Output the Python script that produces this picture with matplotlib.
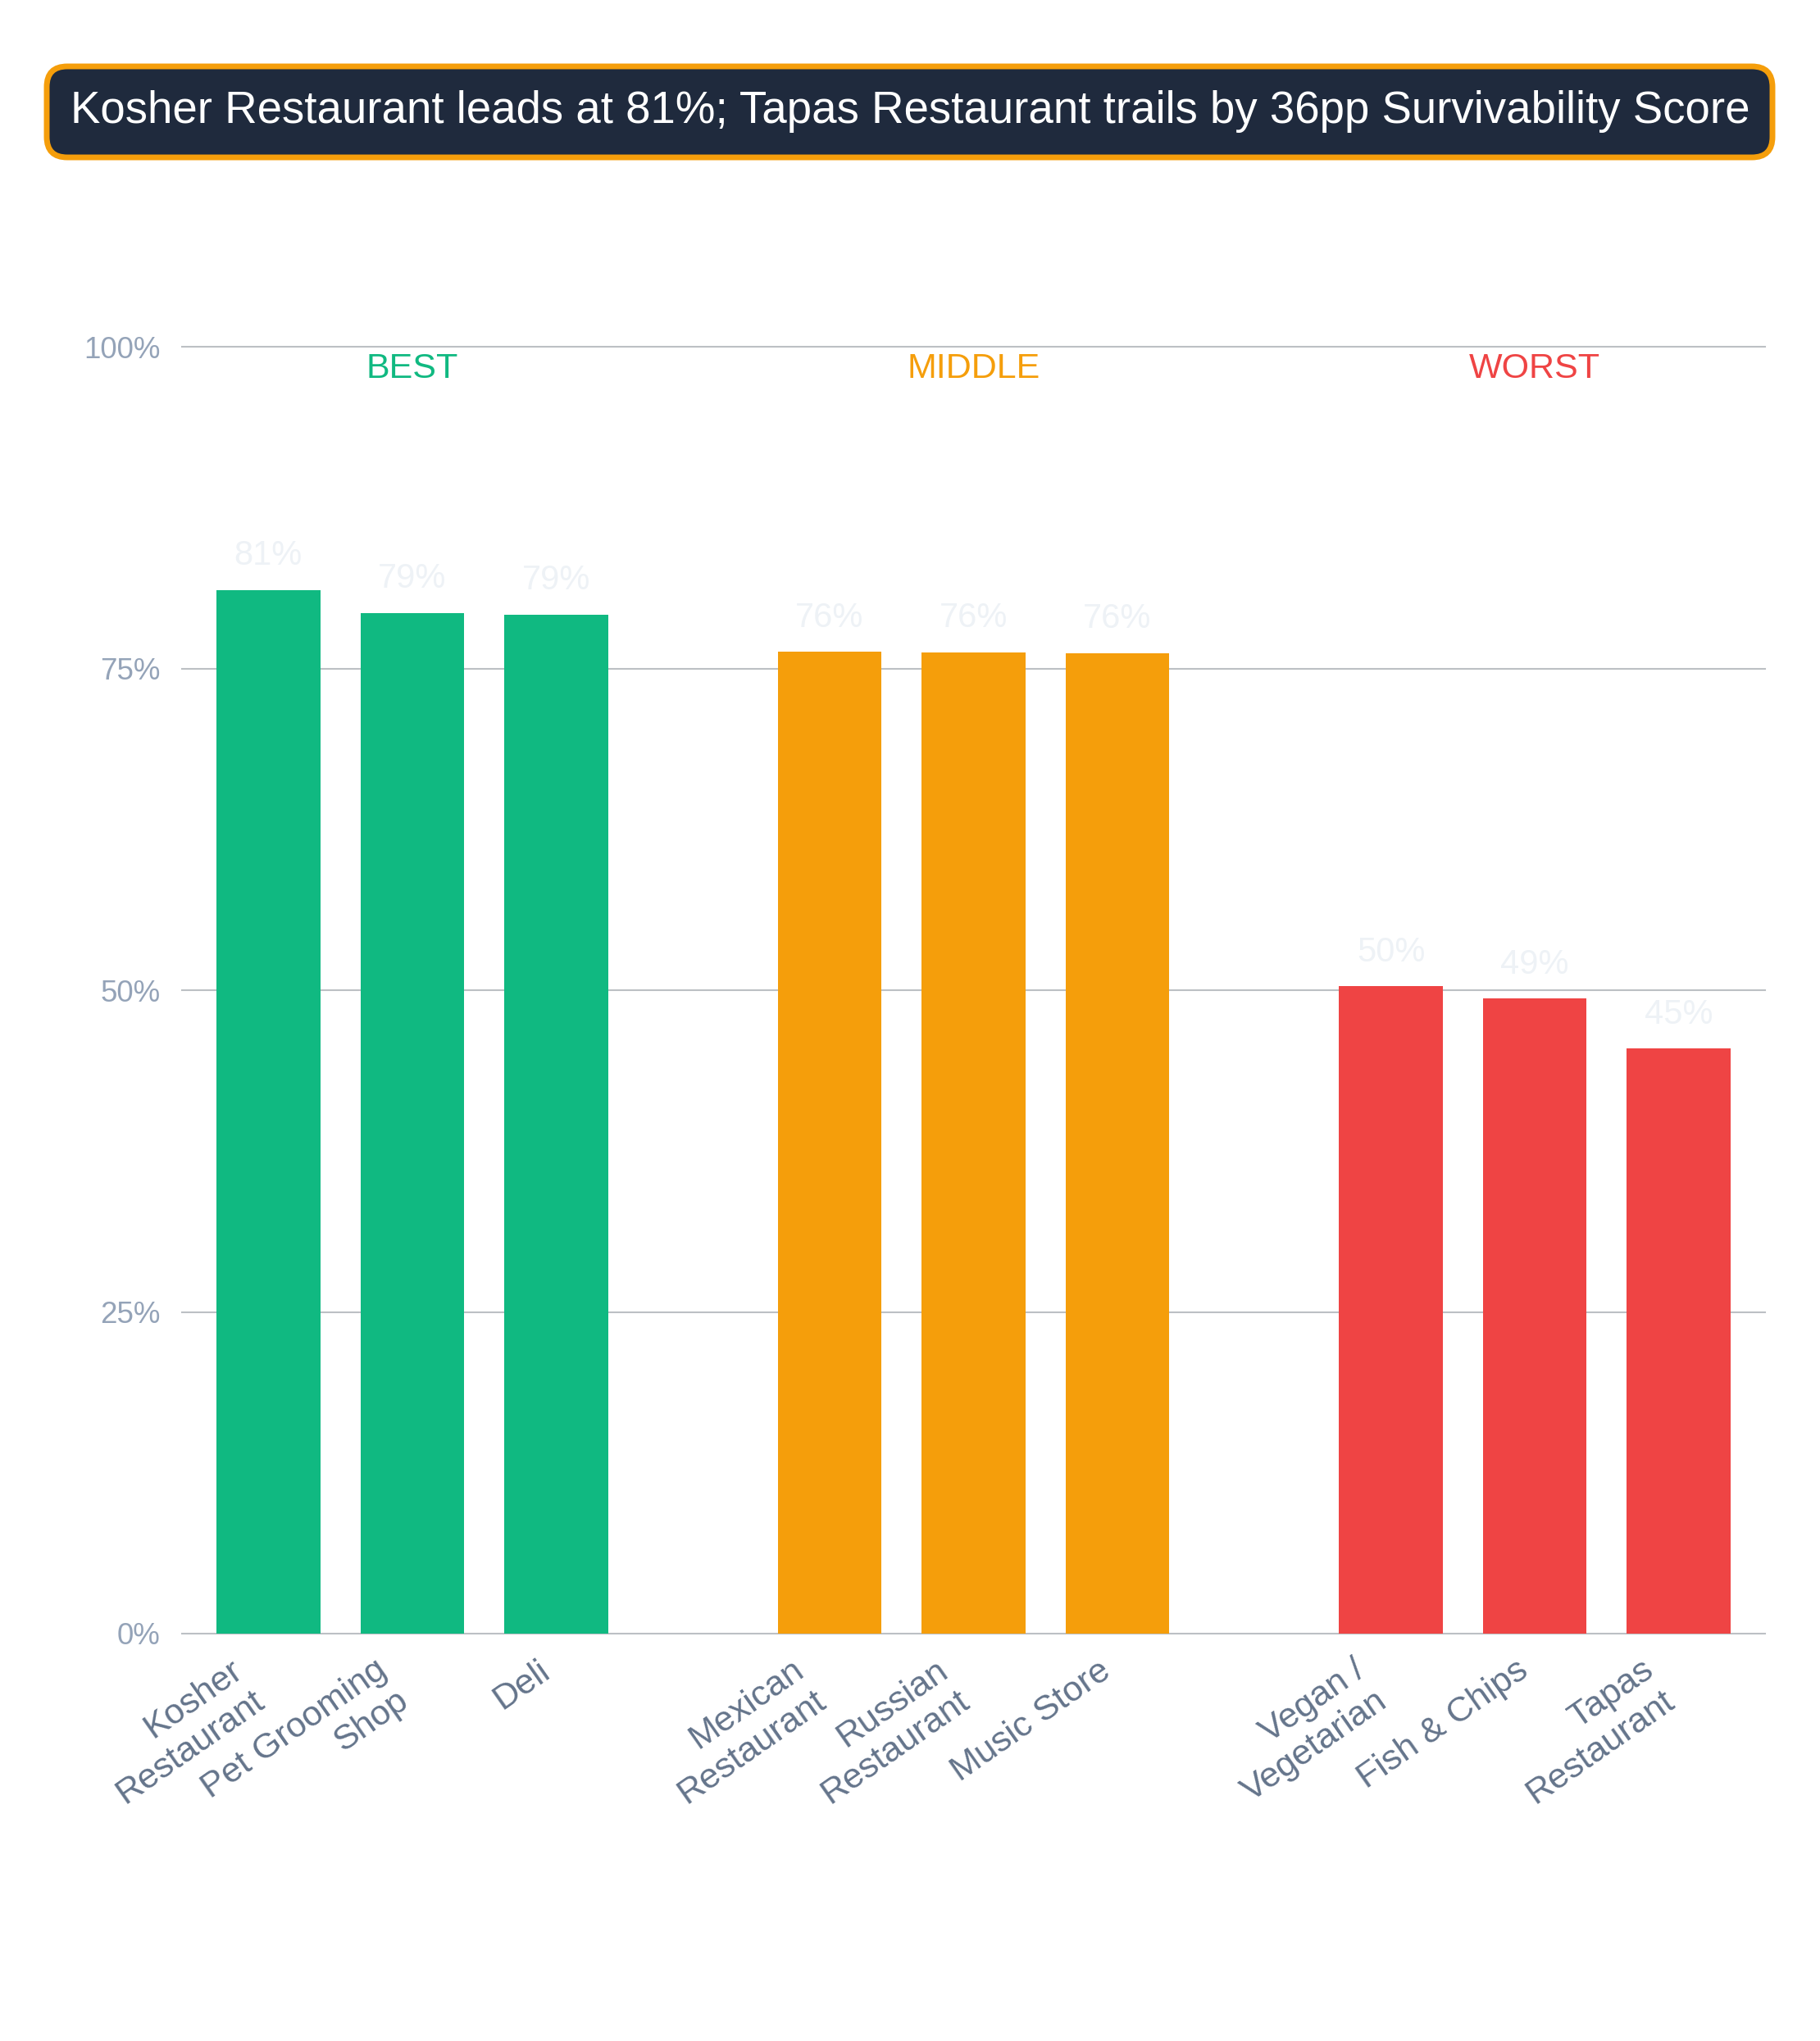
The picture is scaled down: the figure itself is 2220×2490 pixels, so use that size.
import matplotlib
matplotlib.use('Agg')
import matplotlib.pyplot as plt
from matplotlib.patches import FancyBboxPatch
from matplotlib.transforms import ScaledTranslation

plt.rcParams['font.family'] = ['Liberation Sans', 'DejaVu Sans']

#  Chart data
categories = ['Kosher\nRestaurant', 'Pet Grooming\nShop', 'Deli',
              'Mexican\nRestaurant', 'Russian\nRestaurant', 'Music Store',
              'Vegan /\nVegetarian', 'Fish & Chips', 'Tapas\nRestaurant']
scores = [81.1, 79.3, 79.2, 76.3, 76.25, 76.2, 50.3, 49.35, 45.45]
group_names = ['BEST', 'MIDDLE', 'WORST']
group_colors = ['#10b981', '#f59e0b', '#ef4444']
group_sizes = [3, 3, 3]
y_ticks = [0, 25, 50, 75, 100]
y_tick_labels = ['0%', '25%', '50%', '75%', '100%']
title = 'Kosher Restaurant leads at 81%; Tapas Restaurant trails by 36pp Survivability Score'

#  Layout of bar slots
group_step = 3.9
positions = []
colors = []
for g, size in enumerate(group_sizes):
    for s in range(size):
        positions.append(g * group_step + s)
        colors.append(group_colors[g])

fig = plt.figure(figsize=(22.2, 24.9), dpi=100)
ax = fig.add_axes([0.1, 0.1996, 0.8698, 0.6305])

#  Grid lines
for v in y_ticks:
    ax.axhline(v, color='#bcc0c4', lw=1.5, zorder=0, clip_on=False)

#  Bars
ax.bar(positions, scores, width=0.72, color=colors, zorder=2)

#  Value labels
for x, v in zip(positions, scores):
    ax.annotate('%d%%' % round(v), (x, v), xytext=(0, 22), textcoords='offset points',
                ha='center', va='baseline', fontsize=30, color='#eef2f6')

#  Group labels
for g, size in enumerate(group_sizes):
    center = g * group_step + (size - 1) / 2.0
    ax.text(center, 97.6, group_names[g], ha='center', va='baseline',
            fontsize=31, color=group_colors[g])

ax.set_xlim(-0.6, 2 * group_step + 2.6)
ax.set_ylim(0, 100)
ax.set_yticks(y_ticks)
ax.set_yticklabels(y_tick_labels, fontsize=26.5, color='#94a3b8')
ax.set_xticks(positions)
ax.set_xticklabels(categories, fontsize=31, color='#64748b', rotation=35,
                   ha='right', va='center', rotation_mode='anchor', multialignment='right')
ax.tick_params(axis='y', length=0, pad=19)
ax.tick_params(axis='x', length=0, pad=32)
for sp in ax.spines.values():
    sp.set_visible(False)

#  Nudge rotated labels (multi-line ones sit a bit lower)
for lbl in ax.get_xticklabels():
    if '\n' in lbl.get_text():
        shift = ScaledTranslation(-0.22, -0.15, fig.dpi_scale_trans)
    else:
        shift = ScaledTranslation(-0.12, 0.03, fig.dpi_scale_trans)
    lbl.set_transform(lbl.get_transform() + shift)

#  Title box
box = FancyBboxPatch((0.57, 22.98), 21.05, 1.11,
                     boxstyle='round,pad=0,rounding_size=0.25',
                     transform=fig.dpi_scale_trans, facecolor='#1f2a3d',
                     edgecolor='#f59e0b', linewidth=5, zorder=0)
fig.patches.append(box)
fig.text(0.5, 1 - 136 / 2490.0, title, ha='center', va='center',
         fontsize=39.3, color='white')

fig.savefig('out.png', dpi=100, facecolor='white')
